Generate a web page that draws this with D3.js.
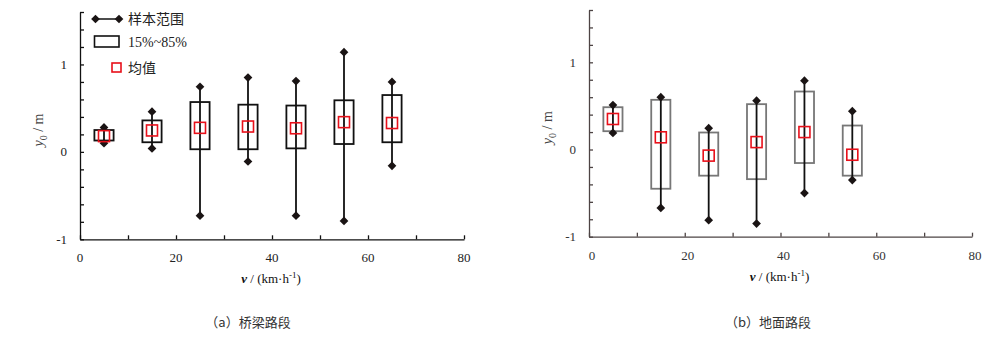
<!DOCTYPE html>
<html><head><meta charset="utf-8">
<script src="https://cdn.jsdelivr.net/npm/d3@7"></script>
<style>body{margin:0;background:#fff}svg{display:block}</style>
</head><body>
<svg id="c" width="1000" height="354"></svg>
<script>
// Panel (a) 桥梁路段
const speedsA = [5, 15, 25, 35, 45, 55, 65];
const maxA  = [0.28, 0.46, 0.745, 0.85, 0.81, 1.14, 0.80];
const minA  = [0.10, 0.04, -0.73, -0.11, -0.73, -0.79, -0.16];
const q85A  = [0.25, 0.36, 0.57, 0.54, 0.53, 0.59, 0.65];
const q15A  = [0.13, 0.11, 0.03, 0.03, 0.04, 0.09, 0.11];
const meanA = [0.18, 0.245, 0.275, 0.29, 0.27, 0.34, 0.33];
// Panel (b) 地面路段
const speedsB = [5, 15, 25, 35, 45, 55];
const maxB  = [0.51, 0.60, 0.245, 0.56, 0.79, 0.44];
const minB  = [0.19, -0.67, -0.81, -0.85, -0.50, -0.35];
const q85B  = [0.485, 0.57, 0.195, 0.52, 0.665, 0.275];
const q15B  = [0.21, -0.45, -0.30, -0.34, -0.155, -0.30];
const meanB = [0.35, 0.14, -0.07, 0.085, 0.20, -0.06];

const xTicks = [0, 20, 40, 60, 80];
const yTicks = [-1, 0, 1];
const legendLabels = ["样本范围", "15%~85%", "均值"];
const captions = ["（a）桥梁路段", "（b）地面路段"];

const svg = d3.select("#c");
const serif = "Liberation Serif, DejaVu Serif, serif";
const cjk = "Noto Sans CJK SC, sans-serif";
const diamond = d3.symbol().type(d3.symbolSquare).size(38);

function panel(cfg) {
  const x = d3.scaleLinear().domain([0, 80]).range([cfg.x0, cfg.x1]);
  const y = d3.scaleLinear().domain([-1, 1.6]).range([cfg.yb, cfg.yt]);
  const g = svg.append("g");
  const ac = cfg.axisColor;
  const yAx = g.append("g").attr("transform", `translate(${cfg.x0},0)`)
    .call(d3.axisLeft(y).tickValues(d3.range(-1, 1.61, 0.2).map(v => +v.toFixed(1))).tickSizeInner(-4).tickSizeOuter(0).tickFormat(""));
  const xAx = g.append("g").attr("transform", `translate(0,${cfg.yb})`)
    .call(d3.axisBottom(x).tickValues(d3.range(0, 81, 10)).tickSizeInner(-4).tickSizeOuter(0).tickFormat(""));
  [yAx, xAx].forEach(a => {
    a.selectAll("path,line").attr("stroke", ac).attr("stroke-width", 1.3);
  });
  g.selectAll(".yl").data(yTicks).join("text")
    .attr("x", cfg.x0 - 13).attr("y", d => y(d) + 4.5)
    .attr("text-anchor", "end").attr("font-family", serif).attr("font-size", 13)
    .attr("fill", cfg.labelColor).text(d => d);
  g.selectAll(".xl").data(xTicks).join("text")
    .attr("x", d => x(d) + cfg.xlOff).attr("y", cfg.yb + 23)
    .attr("text-anchor", "middle").attr("font-family", serif).attr("font-size", 13)
    .attr("fill", cfg.labelColor).text(d => d);
  const xt = g.append("text").attr("x", (cfg.x0 + cfg.x1) / 2 - 1).attr("y", cfg.yb + 44)
    .attr("text-anchor", "middle").attr("font-family", serif).attr("font-size", 13).attr("fill", "#111");
  xt.append("tspan").attr("font-style", "italic").attr("font-weight", "bold").text("v");
  xt.append("tspan").text(" / (km·h");
  xt.append("tspan").attr("dy", -5).attr("font-size", 9).text("-1");
  xt.append("tspan").attr("dy", 5).text(")");
  const ytt = g.append("text").attr("transform", `translate(${cfg.x0 - 37},${y(0.25)}) rotate(-90)`)
    .attr("text-anchor", "middle").attr("font-family", serif).attr("font-size", 14).attr("fill", "#444");
  ytt.append("tspan").attr("font-style", "italic").text("y");
  ytt.append("tspan").attr("dy", 4).attr("font-size", 10).text("0");
  ytt.append("tspan").attr("dy", -4).text(" / m");
  g.append("text").attr("x", cfg.capX).attr("y", 327).attr("text-anchor", "middle")
    .attr("font-family", cjk).attr("font-size", 13).attr("fill", "#333").text(cfg.caption);

  const d = cfg.speeds.map((s, i) => ({ s, max: cfg.max[i], min: cfg.min[i], hi: cfg.hi[i], lo: cfg.lo[i], m: cfg.mean[i] }));
  const bw = x(4) - x(0);
  g.selectAll(".box").data(d).join("rect")
    .attr("x", e => x(e.s) - bw / 2).attr("width", bw)
    .attr("y", e => y(e.hi)).attr("height", e => y(e.lo) - y(e.hi))
    .attr("fill", "none").attr("stroke", cfg.boxColor).attr("stroke-width", 1.8);
  g.selectAll(".wh").data(d).join("line")
    .attr("x1", e => x(e.s)).attr("x2", e => x(e.s))
    .attr("y1", e => y(e.max)).attr("y2", e => y(e.min))
    .attr("stroke", "#111").attr("stroke-width", 1.8);
  g.selectAll(".dmax").data(d).join("path").attr("d", diamond)
    .attr("transform", e => `translate(${x(e.s)},${y(e.max)}) rotate(45)`).attr("fill", "#1a1414");
  g.selectAll(".dmin").data(d).join("path").attr("d", diamond)
    .attr("transform", e => `translate(${x(e.s)},${y(e.min)}) rotate(45)`).attr("fill", "#1a1414");
  g.selectAll(".mean").data(d).join("rect")
    .attr("x", e => x(e.s) - 5.5).attr("y", e => y(e.m) - 5.5).attr("width", 11).attr("height", 11)
    .attr("fill", "none").attr("stroke", "#e8101a").attr("stroke-width", 1.6);
  return { x, y, g };
}

panel({ x0: 80, x1: 464, yt: 12, yb: 239.3, speeds: speedsA, max: maxA, min: minA, hi: q85A, lo: q15A, mean: meanA,
  axisColor: "#111", labelColor: "#222", boxColor: "#111", caption: captions[0], capX: 248, xlOff: 0 });
panel({ x0: 589, x1: 972, yt: 10, yb: 236.7, speeds: speedsB, max: maxB, min: minB, hi: q85B, lo: q15B, mean: meanB,
  axisColor: "#4d4444", labelColor: "#333", boxColor: "#777", caption: captions[1], capX: 768, xlOff: 3 });

const lg = svg.append("g");
lg.append("line").attr("x1", 95.5).attr("x2", 119).attr("y1", 19).attr("y2", 19).attr("stroke", "#111").attr("stroke-width", 1.5);
[95.5, 119].forEach(px => lg.append("path").attr("d", diamond())
  .attr("transform", `translate(${px},19) rotate(45)`).attr("fill", "#1a1414"));
lg.append("rect").attr("x", 94.5).attr("y", 36).attr("width", 24.5).attr("height", 11)
  .attr("fill", "none").attr("stroke", "#111").attr("stroke-width", 1.6);
lg.append("rect").attr("x", 112).attr("y", 63).attr("width", 9).attr("height", 9)
  .attr("fill", "none").attr("stroke", "#e8101a").attr("stroke-width", 1.6);
lg.selectAll(".lt").data(legendLabels).join("text")
  .attr("x", 128).attr("y", (d, i) => [24, 47, 73][i])
  .attr("font-family", (d, i) => i === 1 ? serif : cjk).attr("font-size", 14).attr("fill", "#222").text(d => d);
</script>
</body></html>
